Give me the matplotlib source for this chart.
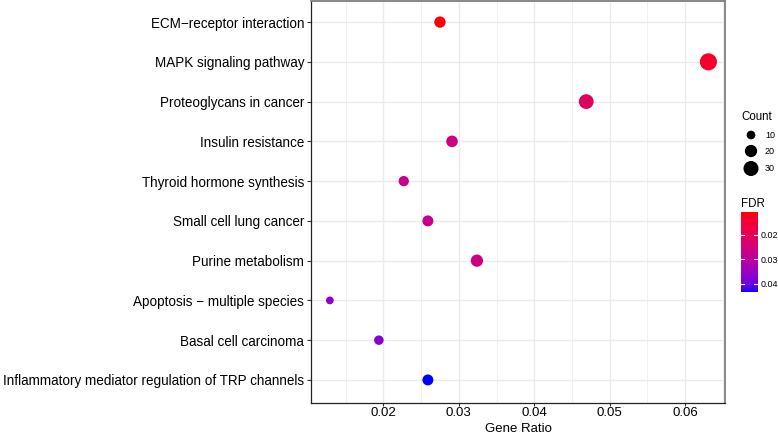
import numpy as np
import matplotlib
matplotlib.use("Agg")
import matplotlib.pyplot as plt
from matplotlib.colors import LinearSegmentedColormap, Normalize
from matplotlib.ticker import MultipleLocator

plt.rcParams['font.family'] = ['Liberation Sans', 'DejaVu Sans']

# data, top to bottom as in the chart
pathways = [
    "ECM\u2212receptor interaction",
    "MAPK signaling pathway",
    "Proteoglycans in cancer",
    "Insulin resistance",
    "Thyroid hormone synthesis",
    "Small cell lung cancer",
    "Purine metabolism",
    "Apoptosis \u2212 multiple species",
    "Basal cell carcinoma",
    "Inflammatory mediator regulation of TRP channels",
]
gene_ratio = [0.0275, 0.0631, 0.0469, 0.0291, 0.0227, 0.0259, 0.0324, 0.0129, 0.0194, 0.0259]
counts = [17, 39, 29, 18, 14, 16, 20, 8, 12, 16]
fdr = [0.0108, 0.0140, 0.0215, 0.0262, 0.0275, 0.0278, 0.0262, 0.0360, 0.0378, 0.0434]
legend_counts = [10, 20, 30]
fdr_ticks = [0.02, 0.03, 0.04]


def lab_to_rgb(L, a, b):
    # CIE Lab (D65) -> sRGB
    fy = (L + 16) / 116
    fx = fy + a / 500
    fz = fy - b / 200
    d = 6 / 29

    def finv(t):
        return np.where(t > d, t ** 3, 3 * d * d * (t - 4 / 29))

    X = 0.95047 * finv(fx)
    Y = 1.0 * finv(fy)
    Z = 1.08883 * finv(fz)
    r = 3.2406 * X - 1.5372 * Y - 0.4986 * Z
    g = -0.9689 * X + 1.8758 * Y + 0.0415 * Z
    bb = 0.0557 * X - 0.2040 * Y + 1.0570 * Z
    rgb = np.stack([r, g, bb], axis=-1)
    rgb = np.where(rgb <= 0.0031308, 12.92 * rgb, 1.055 * np.abs(rgb) ** (1 / 2.4) - 0.055)
    return np.clip(rgb, 0, 1)


# red -> blue gradient interpolated in Lab, like ggplot's scale_color_gradient
t = np.linspace(0, 1, 64)
red_lab = np.array([53.24, 80.09, 67.20])
blue_lab = np.array([32.30, 79.19, -107.86])
lab = red_lab[None, :] * (1 - t[:, None]) + blue_lab[None, :] * t[:, None]
cmap = LinearSegmentedColormap.from_list("fdr", lab_to_rgb(lab[:, 0], lab[:, 1], lab[:, 2]))
norm = Normalize(vmin=min(fdr), vmax=max(fdr))


def size_of(c):
    return 3.9 * np.asarray(c, dtype=float)


fig = plt.figure(figsize=(7.78, 4.34), dpi=100)
ax = fig.add_axes([311 / 778, 31 / 434, 414 / 778, 402 / 434])

n = len(pathways)
ypos = np.arange(n)[::-1]
ax.scatter(gene_ratio, ypos, s=size_of(counts), c=fdr, cmap=cmap, norm=norm,
           edgecolors='none', zorder=3)

ax.set_xlim(0.0104, 0.0653)
ax.set_ylim(-0.58, n - 1 + 0.53)
ax.set_yticks(ypos)
ax.set_yticklabels(pathways, fontsize=9.75, color='black')
ax.xaxis.set_minor_locator(MultipleLocator(0.005))
ax.set_xticks([0.02, 0.03, 0.04, 0.05, 0.06])
ax.set_xticklabels(["0.02", "0.03", "0.04", "0.05", "0.06"], fontsize=9.5, color='black')
ax.tick_params(axis='both', which='major', length=3, width=0.8, color='#333333', pad=2)
ax.tick_params(axis='x', which='major', length=2, pad=0.8)
ax.tick_params(axis='x', which='minor', length=0)
fig.text(518 / 778, 1 - 432 / 434, "Gene Ratio", fontsize=9.5, ha='center', va='baseline')

ax.grid(True, which='major', color='#EBEBEB', linewidth=1.0, zorder=0)
ax.grid(True, which='minor', axis='x', color='#F0F0F0', linewidth=0.7, zorder=0)
ax.set_axisbelow(True)
for side in ['left', 'bottom']:
    ax.spines[side].set_color('#222222')
    ax.spines[side].set_linewidth(0.9)
for side in ['top', 'right']:
    ax.spines[side].set_color('#7F7F7F')
    ax.spines[side].set_linewidth(1.3)

# Count legend
fig.text(741 / 778, 1 - 117 / 434, "Count", fontsize=8.3, va='center', ha='left')
lax = fig.add_axes([738 / 778, 1 - 178 / 434, 40 / 778, 52 / 434])
lax.set_xlim(0, 40)
lax.set_ylim(178, 126)
leg_y = [135, 151, 168.5]
lax.scatter([13] * len(legend_counts), leg_y, s=size_of(legend_counts), c='black', edgecolors='none')
for yv, cnt in zip(leg_y, legend_counts):
    lax.text(27, yv, str(cnt), fontsize=6.5, va='center', ha='left')
lax.axis('off')

# FDR colorbar
fig.text(741 / 778, 1 - 204 / 434, "FDR", fontsize=8.3, va='center', ha='left')
cax = fig.add_axes([741 / 778, 1 - 292 / 434, 16.5 / 778, 80 / 434])
sm = plt.cm.ScalarMappable(cmap=cmap, norm=norm)
cb = fig.colorbar(sm, cax=cax)
cb.outline.set_visible(False)
cax.invert_yaxis()
cb.set_ticks(fdr_ticks)
cb.set_ticklabels([f"{v:.2f}" for v in fdr_ticks])
cax.tick_params(length=0, labelsize=6.4, pad=2.5)
for v in fdr_ticks:
    cax.plot([0, 0.2], [v, v], color='white', lw=0.8, transform=cax.get_yaxis_transform())
    cax.plot([0.8, 1], [v, v], color='white', lw=0.8, transform=cax.get_yaxis_transform())

fig.savefig("out.png", dpi=100)
